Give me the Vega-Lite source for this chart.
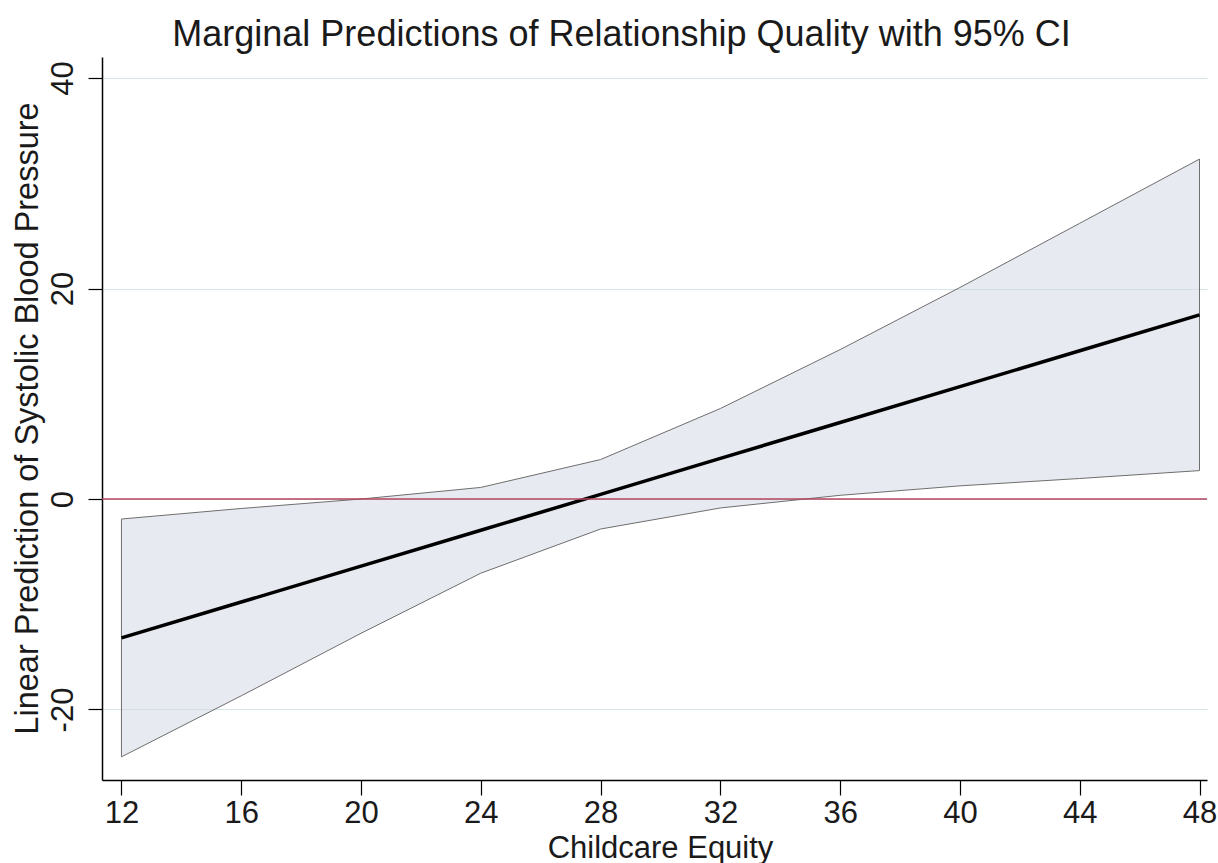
{
  "$schema": "https://vega.github.io/schema/vega-lite/v6.json",
  "autosize": {"type": "none"},
  "width": 1105,
  "height": 723,
  "padding": {"left": 102, "top": 57, "right": 11, "bottom": 83},
  "background": "white",
  "config": {
    "font": "Liberation Sans",
    "view": {"stroke": null}
  },
  "title": {
    "text": "Marginal Predictions of Relationship Quality with 95% CI",
    "fontSize": 36,
    "fontWeight": "normal",
    "font": "Liberation Sans",
    "color": "#1a1a1a",
    "anchor": "middle",
    "frame": "group",
    "baseline": "alphabetic",
    "offset": 16,
    "dx": -33,
    "dy": 41
  },
  "data": {
    "values": [
      {"x": 12, "pred": -13.2, "lo": -24.5, "hi": -1.9},
      {"x": 16, "pred": -9.79, "lo": -18.7, "hi": -0.9},
      {"x": 20, "pred": -6.38, "lo": -12.76, "hi": 0.0},
      {"x": 24, "pred": -2.97, "lo": -7.05, "hi": 1.1},
      {"x": 28, "pred": 0.44, "lo": -2.85, "hi": 3.75},
      {"x": 32, "pred": 3.86, "lo": -0.85, "hi": 8.6},
      {"x": 36, "pred": 7.27, "lo": 0.35, "hi": 14.2},
      {"x": 40, "pred": 10.68, "lo": 1.25, "hi": 20.1},
      {"x": 44, "pred": 14.09, "lo": 1.95, "hi": 26.2},
      {"x": 48, "pred": 17.5, "lo": 2.7, "hi": 32.3}
    ]
  },
  "encoding": {
    "x": {
      "field": "x",
      "type": "quantitative",
      "scale": {"domain": [11.35, 48.25], "nice": false, "zero": false},
      "axis": {
        "title": "Childcare Equity",
        "values": [12, 16, 20, 24, 28, 32, 36, 40, 44, 48],
        "grid": false,
        "domainColor": "#000000",
        "domainWidth": 1.5,
        "tickColor": "#000000",
        "tickWidth": 1.2,
        "tickSize": 15,
        "labelFontSize": 31,
        "labelColor": "#1a1a1a",
        "labelBaseline": "alphabetic",
        "labelPadding": 27,
        "labelFlush": false,
        "titleFontSize": 31,
        "titleFontWeight": "normal",
        "titleColor": "#1a1a1a",
        "titleBaseline": "alphabetic",
        "titleY": 77,
        "titleX": 558
      }
    },
    "y": {
      "type": "quantitative",
      "scale": {"domain": [-26.7, 42.0], "nice": false, "zero": false},
      "axis": {
        "title": "Linear Prediction of Systolic Blood Pressure",
        "values": [-20, 0, 20, 40],
        "labelExpr": "datum.value < 0 ? '-' + abs(datum.value) : datum.label",
        "grid": true,
        "gridColor": "#d6e6e8",
        "gridWidth": 1.2,
        "domainColor": "#000000",
        "domainWidth": 1.5,
        "tickColor": "#000000",
        "tickWidth": 1.2,
        "tickSize": 14,
        "labelFontSize": 31,
        "labelColor": "#1a1a1a",
        "labelAngle": -90,
        "labelAlign": "center",
        "labelBaseline": "alphabetic",
        "labelPadding": 16,
        "labelFlush": false,
        "titleFontSize": 32.5,
        "titleFontWeight": "normal",
        "titleColor": "#1a1a1a",
        "titleAngle": -90,
        "titleAlign": "center",
        "titleBaseline": "alphabetic",
        "titleX": -65,
        "titleY": 361
      }
    }
  },
  "layer": [
    {
      "mark": {"type": "area", "fill": "#d0d6e2", "fillOpacity": 0.5, "stroke": "#6e6e6e", "strokeWidth": 1},
      "encoding": {
        "y": {"field": "lo", "type": "quantitative"},
        "y2": {"field": "hi"}
      }
    },
    {
      "mark": {"type": "line", "color": "#000000", "strokeWidth": 3.5},
      "encoding": {
        "y": {"field": "pred", "type": "quantitative"}
      }
    },
    {
      "data": {"values": [{"ref": 0}]},
      "mark": {"type": "rule", "color": "#b5445f", "strokeWidth": 1.5},
      "encoding": {
        "y": {"field": "ref", "type": "quantitative"},
        "x": {"value": 0},
        "x2": {"value": 1105}
      }
    }
  ]
}
